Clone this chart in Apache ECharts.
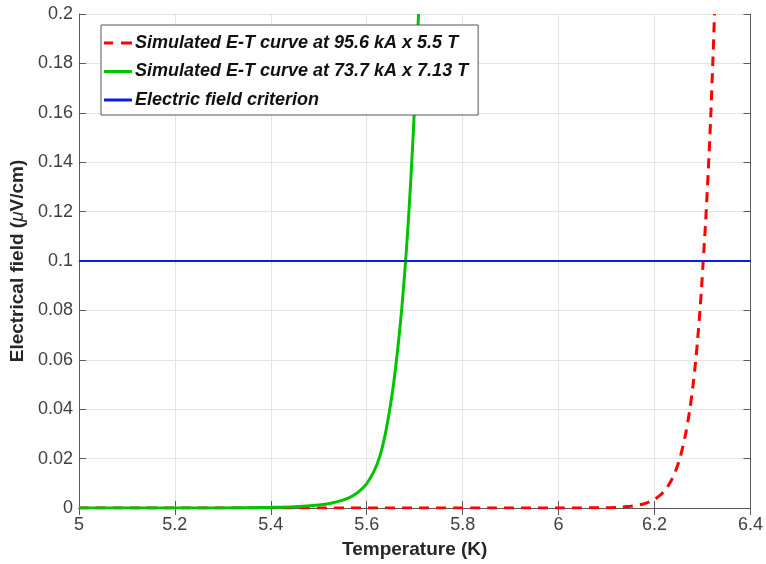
<!DOCTYPE html>
<html>
<head>
<meta charset="utf-8">
<script src="https://cdn.jsdelivr.net/npm/echarts@6/dist/echarts.min.js"></script>
<style>
  html, body { margin: 0; padding: 0; background: #fff; }
  #chart { width: 766px; height: 564px; }
</style>
</head>
<body>
<div id="chart"></div>
<script>
// Temperature (K) / electric field (µV/cm) samples for each simulated curve
const redT = [5.00, 6.00, 6.10, 6.13, 6.15, 6.175, 6.19, 6.206, 6.22, 6.234, 6.245, 6.2545, 6.265, 6.273, 6.280, 6.2856, 6.2905, 6.2946, 6.298, 6.3015, 6.3065, 6.312, 6.317, 6.3216, 6.325];
const redE = [0, 0, 0.00013, 0.00035, 0.00067, 0.00155, 0.0025, 0.0043, 0.0068, 0.0108, 0.0156, 0.0213, 0.0302, 0.0392, 0.0494, 0.0593, 0.0698, 0.0798, 0.0892, 0.10, 0.116, 0.1366, 0.158, 0.181, 0.20];

const greenT = [5.00, 5.20, 5.30, 5.35, 5.40, 5.45, 5.50, 5.525, 5.55, 5.57, 5.586, 5.60, 5.615, 5.627, 5.638, 5.648, 5.656, 5.663, 5.668, 5.673, 5.677, 5.681, 5.687, 5.694, 5.700, 5.705, 5.708];
const greenE = [0, 0.00001, 0.00005, 0.0001, 0.00024, 0.00053, 0.00123, 0.0019, 0.0032, 0.0048, 0.0070, 0.0099, 0.0148, 0.0208, 0.0293, 0.040, 0.0503, 0.0617, 0.0706, 0.0808, 0.090, 0.100, 0.117, 0.1405, 0.164, 0.187, 0.20];

// Criterion: constant field level across the temperature range
const criterionT = [5.0, 6.4];
const criterionE = [0.1, 0.1];

const seriesNames = [
  'Simulated E-T curve at 95.6 kA x 5.5 T',
  'Simulated E-T curve at 73.7 kA x 7.13 T',
  'Electric field criterion'
];

const pairs = (xs, ys) => xs.map((x, i) => [x, ys[i]]);

const FONT = '"Liberation Sans", Arial, Helvetica, sans-serif';
const frameColor = '#5a5a5a';
const labelColor = '#404040';
const RED = '#ff0000', GREEN = '#00c400', BLUE = '#0a1ee0';

// Legend keys: plain strokes (dashed for the first curve)
const dashIcon = 'path://M0,0h9v3h-9zM17,0h11v3h-11z';
const solidIcon = 'path://M0,0h28v3h-28z';

const chart = echarts.init(document.getElementById('chart'), null, { renderer: 'canvas' });

const baseAxis = {
  type: 'value',
  axisLine: { show: true, lineStyle: { color: frameColor, width: 1 } },
  axisTick: { show: true, inside: true, length: 7, lineStyle: { color: frameColor } },
  splitLine: { show: false },
  axisLabel: { show: false }
};

chart.setOption({
  animation: false,
  backgroundColor: '#ffffff',
  grid: { left: 78, right: 14, top: 14, bottom: 56, containLabel: false },
  xAxis: [
    Object.assign({}, baseAxis, {
      min: 5, max: 6.4, interval: 0.2, position: 'bottom',
      splitLine: { show: true, lineStyle: { color: '#e4e4e4', width: 1 } },
      axisLabel: { show: true, color: labelColor, fontFamily: FONT, fontSize: 18, margin: 8 },
      name: 'Temperature (K)', nameLocation: 'middle', nameGap: 32,
      nameTextStyle: { color: '#262626', fontFamily: FONT, fontSize: 19, fontWeight: 'bold' }
    }),
    Object.assign({}, baseAxis, { min: 5, max: 6.4, interval: 0.2, position: 'top' })
  ],
  yAxis: [
    Object.assign({}, baseAxis, {
      min: 0, max: 0.2, interval: 0.02, position: 'left',
      splitLine: { show: true, lineStyle: { color: '#e4e4e4', width: 1 } },
      axisLabel: { show: true, color: labelColor, fontFamily: FONT, fontSize: 18, margin: 6 },
      name: 'Electrical field ({mu|μ}V/cm)', nameLocation: 'middle', nameGap: 44, nameRotate: 90,
      nameTextStyle: {
        color: '#262626', fontFamily: FONT, fontSize: 19, fontWeight: 'bold',
        rich: { mu: { fontFamily: FONT, fontSize: 19, fontStyle: 'italic', fontWeight: 'normal', color: '#262626' } }
      }
    }),
    Object.assign({}, baseAxis, { min: 0, max: 0.2, interval: 0.02, position: 'right' })
  ],
  legend: {
    orient: 'vertical',
    left: 101, top: 25,
    padding: [8, 10, 5, 3],
    itemGap: 8.5,
    itemWidth: 28,
    itemHeight: 3,
    backgroundColor: '#ffffff',
    borderColor: '#555555',
    borderWidth: 1,
    borderRadius: 0,
    textStyle: { color: '#111111', fontFamily: FONT, fontSize: 18, fontWeight: 'bold', fontStyle: 'italic', lineHeight: 20, padding: [0, 0, 0, -2] },
    data: [
      { name: seriesNames[0], icon: dashIcon, itemStyle: { color: RED } },
      { name: seriesNames[1], icon: solidIcon, itemStyle: { color: GREEN } },
      { name: seriesNames[2], icon: solidIcon, itemStyle: { color: BLUE } }
    ]
  },
  series: [
    {
      name: seriesNames[0], type: 'line', data: pairs(redT, redE),
      symbol: 'none', smooth: 0.3,
      lineStyle: { color: RED, width: 3, type: [10, 7] },
      itemStyle: { color: RED }, z: 2
    },
    {
      name: seriesNames[1], type: 'line', data: pairs(greenT, greenE),
      symbol: 'none', smooth: 0.3,
      lineStyle: { color: GREEN, width: 3 },
      itemStyle: { color: GREEN }, z: 3
    },
    {
      name: seriesNames[2], type: 'line', data: pairs(criterionT, criterionE),
      symbol: 'none',
      lineStyle: { color: BLUE, width: 2 },
      itemStyle: { color: BLUE }, z: 4
    }
  ]
});
</script>
</body>
</html>
